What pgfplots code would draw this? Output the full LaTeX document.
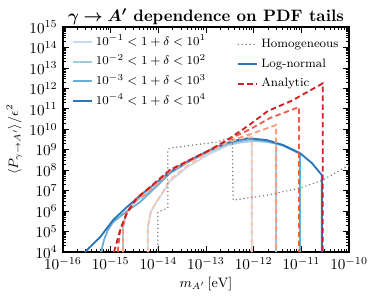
\documentclass[border=0pt]{standalone}
\usepackage{pgfplots}
\pgfplotsset{compat=1.18}
\usepackage{bm}
\definecolor{bA}{HTML}{C6DBEF}
\definecolor{bB}{HTML}{9ECAE1}
\definecolor{bC}{HTML}{6BAED6}
\definecolor{bD}{HTML}{2C75B8}
\definecolor{rA}{HTML}{FCC2AA}
\definecolor{rB}{HTML}{F99A7C}
\definecolor{rC}{HTML}{F15A45}
\definecolor{rD}{HTML}{CC1F26}
\definecolor{hg}{HTML}{808080}
\tikzset{
  rline/.style={line width=1.2pt, dash pattern=on 3.6pt off 2.2pt},
  bline/.style={line width=1.2pt},
  hline/.style={line width=1.1pt, hg, line cap=round, dash pattern=on 0pt off 2.6pt},
}
\newcommand{\lgm}{\fontsize{8.5}{10}\selectfont}
\newcommand{\lgt}{\fontsize{8}{10}\selectfont}
\begin{document}
\begin{tikzpicture}
\useasboundingbox (-41.4pt,-34.2pt) rectangle (204.6pt,165.8pt);
\begin{axis}[
  at={(0,0)}, anchor=south west,
  width=188.2pt, height=148pt, scale only axis,
  xmode=log, ymode=log,
  xmin=1e-16, xmax=1e-10, ymin=1e4, ymax=1e15,
  xtick={1e-16,1e-15,1e-14,1e-13,1e-12,1e-11,1e-10},
  ytick={1e4,1e5,1e6,1e7,1e8,1e9,1e10,1e11,1e12,1e13,1e14,1e15},
  tick align=inside, major tick length=3.8pt, minor tick length=2pt,
  axis line style={line width=1pt},
  every tick/.style={black, line width=0.6pt},
  tick label style={font=\fontsize{9.6}{11}\selectfont},
  title={\fontsize{10.9}{12}\selectfont\textbf{$\bm{\gamma\to A'}$ dependence on PDF tails}},
  title style={yshift=-8pt},
  xlabel={\fontsize{8.8}{10}\selectfont$m_{A'}\,[\mathrm{eV}]$},
  xlabel style={yshift=2pt},
  ylabel={\fontsize{8.8}{10}\selectfont$\langle P_{\gamma\to A'}\rangle/\epsilon^2$},
  ylabel style={yshift=-2pt},
  legend style={draw=none, fill=none, at={(0.025,0.985)}, anchor=north west, row sep=-0.1pt, inner sep=1pt,
    nodes={text height=6.5pt, text depth=2.5pt}},
  legend cell align=left,
  legend image code/.code={\draw[#1] (0cm,0cm) -- (0.44cm,0cm);},
]
\addlegendimage{bline, bA}\addlegendentry{\lgm$10^{-1}<1+\delta<10^{1}$}
\addlegendimage{bline, bB}\addlegendentry{\lgm$10^{-2}<1+\delta<10^{2}$}
\addlegendimage{bline, bC}\addlegendentry{\lgm$10^{-3}<1+\delta<10^{3}$}
\addlegendimage{bline, bD}\addlegendentry{\lgm$10^{-4}<1+\delta<10^{4}$}
% band 1 (lightest blue)
\addplot[bline, bA, forget plot] coordinates {
(6.026e-15,1e4) (6.026e-15,1.585e5) (6.918e-15,8.913e5) (9.12e-15,2.818e6) (1.230e-14,7.943e6)
(1.738e-14,2.818e7) (3.981e-14,1.413e8) (1.202e-13,6.31e8) (2.754e-13,1.585e9) (5.012e-13,2.239e9)
(9.12e-13,2.512e9) (9.12e-13,1e4)};
% band 2
\addplot[bline, bB, forget plot] coordinates {
(1.820e-15,1e4) (1.820e-15,1.585e5) (2.089e-15,7.943e5) (2.951e-15,2.512e6) (5.248e-15,6.31e6)
(1e-14,1.995e7) (1.738e-14,7.079e7) (4.571e-14,2.818e8) (1.202e-13,7.943e8) (2.754e-13,1.778e9)
(7.943e-13,2.818e9) (1.905e-12,2.399e9) (2.951e-12,1.995e9) (2.951e-12,1e4)};
% band 3
\addplot[bline, bC, forget plot] coordinates {
(6.31e-16,1e4) (7.24e-16,3.80e4) (8.71e-16,1.175e5) (1.122e-15,2.884e5) (2.188e-15,1e6)
(4.169e-15,2.818e6) (1e-14,1.995e7) (1.738e-14,7.079e7) (4.571e-14,2.818e8) (1.202e-13,8.913e8)
(2.754e-13,2.138e9) (7.943e-13,3.311e9) (1.905e-12,2.692e9) (4.169e-12,1.585e9) (9.333e-12,6.31e8)
(9.333e-12,1e4)};
% log-normal / band 4
\addplot[bline, bD, forget plot] coordinates {
(2.884e-16,1e4) (6.03e-16,5.37e4) (1.122e-15,3.631e5) (2.188e-15,1.585e6) (4.786e-15,7.586e6)
(1.072e-14,3.311e7) (1.738e-14,8.128e7) (4.571e-14,3.162e8) (1.202e-13,9.772e8) (2.754e-13,2.138e9)
(5.012e-13,3.162e9) (7.943e-13,3.715e9) (1.905e-12,2.951e9) (4.169e-12,1.698e9) (9.333e-12,6.918e8)
(1.660e-11,2.239e8) (2.692e-11,5.754e7) (2.692e-11,1e4)};
% analytic, lightest
\addplot[rline, rA, forget plot] coordinates {
(6.026e-15,1e4) (6.026e-15,1.585e5) (6.918e-15,8.913e5) (9.12e-15,2.818e6) (1.230e-14,7.943e6)
(1.738e-14,3.548e7) (3.981e-14,1.585e8) (1.202e-13,7.943e8) (2.754e-13,2.239e9) (5.012e-13,3.548e9)
(9.12e-13,4.169e9) (9.12e-13,1e4)};
% analytic, light
\addplot[rline, rB, forget plot] coordinates {
(1.820e-15,1e4) (1.820e-15,1.585e5) (2.089e-15,7.943e5) (2.951e-15,2.512e6) (5.248e-15,6.31e6)
(1e-14,2.512e7) (1.738e-14,8.913e7) (4.571e-14,2.818e8) (1.202e-13,8.913e8) (2.754e-13,2.512e9)
(8.318e-13,5.623e9) (2.951e-12,1.622e10) (2.951e-12,1e4)};
% analytic, medium
\addplot[rline, rC, forget plot] coordinates {
(1.413e-15,1e4) (1.585e-15,1.175e5) (2.188e-15,7.943e5) (3.548e-15,4.365e6) (6.761e-15,1.514e7)
(1.738e-14,1.023e8) (4.571e-14,3.162e8) (1.202e-13,9.772e8) (2.754e-13,2.951e9)
(8.318e-13,1e10) (2.188e-12,3.548e10) (8.913e-12,1.230e11) (8.913e-12,1e4)};
% analytic, dark
\addplot[rline, rD, forget plot] coordinates {
(1.175e-15,1e4) (1.585e-15,1.175e5) (2.188e-15,7.943e5) (3.548e-15,4.365e6) (6.761e-15,1.514e7)
(1.738e-14,1.023e8) (4.571e-14,3.162e8) (1.202e-13,9.772e8) (2.754e-13,2.951e9)
(7.943e-13,1.585e10) (1.995e-12,7.943e10) (6.31e-12,2.512e11) (2.818e-11,1.778e12) (2.818e-11,1e4)};
% homogeneous
\addplot[hline, forget plot] coordinates {
(9.77e-15,1e4) (9.77e-15,8.913e5) (1.585e-14,1.413e6) (1.585e-14,9.772e8) (1.738e-14,1.202e9)
(5.370e-14,1.698e9) (1.698e-13,2.399e9) (3.548e-13,4.169e9) (3.715e-13,3.467e6) (1.905e-12,6.026e6)
(9.333e-12,1.349e7) (2.818e-11,3.311e7) (1e-10,1.778e8)};
\end{axis}
\begin{axis}[
  at={(0,0)}, anchor=south west,
  width=188.2pt, height=148pt, scale only axis,
  xmode=log, ymode=log,
  xmin=1e-16, xmax=1e-10, ymin=1e4, ymax=1e15,
  hide axis,
  legend style={draw=none, fill=none, at={(0.98,0.975)}, anchor=north east, row sep=-0.1pt, inner sep=1pt,
    nodes={text height=6.5pt, text depth=2.5pt}},
  legend cell align=left,
  legend image code/.code={\draw[#1] (0cm,0cm) -- (0.44cm,0cm);},
]
\addlegendimage{hline}\addlegendentry{\lgt Homogeneous}
\addlegendimage{bline, bD}\addlegendentry{\lgt Log-normal}
\addlegendimage{rline, rD}\addlegendentry{\lgt Analytic}
\end{axis}
\end{tikzpicture}
\end{document}
